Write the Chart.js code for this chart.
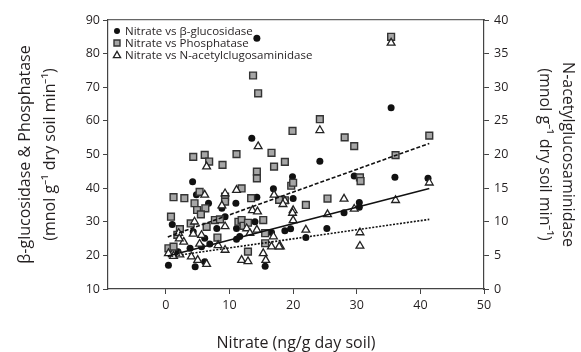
<!DOCTYPE html>
<html>
<head>
<meta charset="utf-8">
<script src="https://cdn.jsdelivr.net/npm/chart.js@4.4.1/dist/chart.umd.min.js"></script>
<style>
  body { margin: 0; background: #fff; }
</style>
</head>
<body>
<canvas id="scatter" width="581" height="352"></canvas>
<script>
var xTicks = [0, 10, 20, 30, 40, 50];
var leftTicks = [10, 20, 30, 40, 50, 60, 70, 80, 90];
var rightTicks = [0, 5, 10, 15, 20, 25, 30, 35, 40];

// nitrate vs beta-glucosidase (left axis)
var gluX = [14.3, 35.4, 24.2, 19.9, 29.6, 36.0, 41.2, 20.0, 30.4, 30.4, 28.0, 18.7, 19.6, 25.3, 22.0,
  13.5, 4.2, 16.9, 14.3, 6.7, 4.8, 11.0, 8.8, 1.0, 9.3, 8.0, 14.0, 11.1, 4.3, 6.1, 11.1, 11.6, 16.6,
  1.9, 3.8, 5.6, 6.9, 0.4, 4.6, 6.1, 15.6];
var gluY = [84.6, 63.9, 48.0, 43.4, 43.6, 43.2, 42.9, 36.9, 35.7, 34.3, 32.7, 27.3, 27.9, 28.0, 25.3,
  54.8, 41.9, 39.8, 37.3, 35.5, 38.0, 35.5, 34.0, 29.2, 31.5, 28.0, 30.0, 28.0, 27.0, 25.1, 24.8, 25.6, 26.8,
  21.1, 22.1, 22.6, 23.4, 17.1, 16.6, 18.1, 16.8];

// nitrate vs phosphatase (left axis)
var phosX = [35.4, 24.2, 19.9, 28.1, 29.6, 41.4, 18.7, 36.1, 19.7, 20.0, 30.5, 30.6, 25.4, 22.0, 18.7,
  13.7, 14.5, 4.3, 6.1, 6.8, 8.9, 11.1, 16.6, 17.0, 14.3, 14.3, 1.2, 2.9, 5.3, 11.9, 13.4, 9.3, 9.3,
  4.5, 4.9, 6.2, 5.5, 0.8, 3.9, 7.7, 8.5, 11.4, 11.9, 12.2, 12.9, 15.3, 17.8, 2.2, 6.4, 8.1, 15.6, 15.6,
  0.4, 1.2, 12.9, 1.8];
var phosY = [85.0, 60.5, 57.0, 55.1, 52.5, 55.6, 47.8, 49.8, 40.7, 41.6, 43.2, 42.1, 36.9, 35.0, 36.4,
  73.5, 68.2, 49.3, 49.9, 47.9, 46.9, 50.1, 50.5, 46.4, 44.9, 42.9, 37.3, 37.0, 38.9, 39.9, 37.0, 37.5, 36.0,
  35.5, 33.5, 34.0, 32.2, 31.5, 29.5, 30.5, 30.7, 30.0, 30.5, 28.8, 29.7, 30.5, 36.5, 27.8, 28.5, 25.3, 26.6, 23.6,
  22.1, 22.6, 21.1, 26.1];

// nitrate vs N-acetylglucosaminidase (right axis)
var nagX = [35.4, 24.2, 28.0, 20.0, 19.9, 20.0, 25.4, 29.6, 36.1, 41.4, 22.0, 30.5, 30.5, 18.7, 18.0,
  14.5, 6.4, 6.1, 9.3, 11.1, 13.6, 14.4, 8.8, 17.0, 18.4, 4.5, 2.0, 5.6, 4.3, 9.3, 12.7, 13.2, 14.3, 16.9,
  0.4, 1.2, 2.2, 4.0, 5.0, 6.4, 8.2, 9.3, 11.9, 12.9, 15.3, 15.7, 16.6, 17.8, 2.8, 5.3, 2.1];
var nagY = [36.6, 23.6, 13.4, 11.7, 11.3, 10.2, 11.1, 11.9, 13.2, 15.8, 8.8, 8.4, 6.4, 13.1, 6.3,
  21.2, 18.2, 14.0, 14.2, 14.7, 11.7, 11.5, 12.4, 14.0, 12.6, 10.0, 8.3, 8.0, 8.2, 9.3, 9.0, 8.3, 8.8, 7.8,
  5.3, 4.9, 5.1, 4.8, 4.3, 3.7, 6.5, 5.8, 4.3, 4.1, 5.3, 4.3, 6.3, 6.3, 7.0, 6.7, 7.5];

// fitted lines, end points
var trendX = [0.3, 41.4];
var trendPhos = [25.5, 53.3];
var trendGlu = [19.8, 39.9];
var trendNag = [4.8, 10.35];

var legendLabels = ['Nitrate vs \u03b2-glucosidase', 'Nitrate vs Phosphatase', 'Nitrate vs N-acetylclugosaminidase'];

var ink = '#231f20';
var axisColor = '#444';

function toPoints(xs, ys) {
  return xs.map(function(x, i) { return {x: x, y: ys[i]}; });
}

Chart.defaults.font.family = "'Open Sans', sans-serif";
Chart.defaults.color = ink;

// legend drawn inside the plot, top left
var insideLegend = {
  id: 'insideLegend',
  afterDraw: function(chart) {
    var ctx = chart.ctx;
    var x0 = chart.chartArea.left + 9;
    var y0 = chart.chartArea.top + 11;
    ctx.save();
    ctx.font = "11.5px 'Open Sans', sans-serif";
    ctx.fillStyle = ink;
    ctx.textBaseline = 'middle';
    legendLabels.forEach(function(label, i) {
      var y = y0 + i * 12;
      ctx.beginPath();
      if (i == 0) {
        ctx.fillStyle = '#111';
        ctx.arc(x0, y, 3, 0, Math.PI * 2);
        ctx.fill();
      } else if (i == 1) {
        ctx.fillStyle = '#a6a6a6';
        ctx.strokeStyle = '#333';
        ctx.lineWidth = 1.4;
        ctx.rect(x0 - 3, y - 3, 6, 6);
        ctx.fill();
        ctx.stroke();
      } else {
        ctx.fillStyle = '#fff';
        ctx.strokeStyle = '#222';
        ctx.lineWidth = 1.3;
        ctx.moveTo(x0, y - 3.6);
        ctx.lineTo(x0 + 3.6, y + 2.6);
        ctx.lineTo(x0 - 3.6, y + 2.6);
        ctx.closePath();
        ctx.fill();
        ctx.stroke();
      }
      ctx.fillStyle = ink;
      ctx.fillText(label, x0 + 8, y + 0.5);
    });
    ctx.restore();
  }
};

var ctx = document.getElementById('scatter').getContext('2d');
var myChart = new Chart(ctx, {
  type: 'scatter',
  data: {
    datasets: [
      {
        label: 'Phosphatase fit',
        data: toPoints(trendX, trendPhos),
        showLine: true,
        pointRadius: 0,
        borderColor: '#111',
        borderWidth: 1.6,
        borderDash: [4, 2],
        yAxisID: 'y'
      },
      {
        label: 'Glucosidase fit',
        data: toPoints(trendX, trendGlu),
        showLine: true,
        pointRadius: 0,
        borderColor: '#111',
        borderWidth: 1.6,
        yAxisID: 'y'
      },
      {
        label: 'NAG fit',
        data: toPoints(trendX, trendNag),
        showLine: true,
        pointRadius: 0,
        borderColor: '#111',
        borderWidth: 1.6,
        borderDash: [2, 1.5],
        yAxisID: 'y2'
      },
      {
        label: legendLabels[2],
        data: toPoints(nagX, nagY),
        pointStyle: 'triangle',
        pointRadius: 4.5,
        backgroundColor: '#fff',
        borderColor: '#222',
        borderWidth: 1.3,
        yAxisID: 'y2'
      },
      {
        label: legendLabels[1],
        data: toPoints(phosX, phosY),
        pointStyle: 'rect',
        pointRadius: 4.8,
        backgroundColor: '#a6a6a6',
        borderColor: '#333',
        borderWidth: 1.4,
        yAxisID: 'y'
      },
      {
        label: legendLabels[0],
        data: toPoints(gluX, gluY),
        pointStyle: 'circle',
        pointRadius: 3.5,
        backgroundColor: '#111',
        borderColor: '#111',
        borderWidth: 0,
        yAxisID: 'y'
      }
    ]
  },
  options: {
    responsive: false,
    animation: false,
    events: [],
    layout: { padding: 0 },
    plugins: {
      legend: { display: false },
      tooltip: { enabled: false }
    },
    scales: {
      x: {
        type: 'linear',
        position: 'bottom',
        min: -9.1,
        max: 50,
        afterFit: function(s) { s.height = 63; },
        afterBuildTicks: function(s) { s.ticks = xTicks.map(function(v) { return {value: v}; }); },
        grid: { drawOnChartArea: false, color: axisColor, tickLength: 5 },
        border: { color: axisColor, width: 1.2 },
        ticks: { font: { size: 12.5 }, color: ink, padding: 4 },
        title: {
          display: true,
          text: 'Nitrate (ng/g day soil)',
          font: { size: 16, lineHeight: 1.1 },
          color: ink,
          padding: { top: 0, bottom: 0 }
        }
      },
      xTop: {
        type: 'linear',
        position: 'top',
        min: -9.1,
        max: 50,
        afterFit: function(s) { s.height = 20; },
        grid: { display: false },
        border: { color: '#666', width: 1.2 },
        ticks: { display: false }
      },
      y: {
        position: 'left',
        min: 10,
        max: 90,
        afterFit: function(s) { s.width = 108; },
        afterBuildTicks: function(s) { s.ticks = leftTicks.map(function(v) { return {value: v}; }); },
        grid: { drawOnChartArea: false, color: axisColor, tickLength: 5 },
        border: { color: axisColor, width: 1.2 },
        ticks: { font: { size: 12.5 }, color: ink, padding: 3 },
        title: {
          display: true,
          text: ['\u03b2-glucosidase & Phosphatase', '(mnol g\u207b\u00b9 dry soil min\u207b\u00b9)'],
          font: { size: 16, lineHeight: 1.55 },
          color: ink,
          padding: { top: 13, bottom: 0 }
        }
      },
      y2: {
        position: 'right',
        min: 0,
        max: 40,
        afterFit: function(s) { s.width = 97; },
        afterBuildTicks: function(s) { s.ticks = rightTicks.map(function(v) { return {value: v}; }); },
        grid: { drawOnChartArea: false, color: axisColor, tickLength: 5 },
        border: { color: axisColor, width: 1.2 },
        ticks: { font: { size: 12.5 }, color: ink, padding: 5 },
        title: {
          display: true,
          text: ['N-acetylglucosaminidase', '(mnol g\u207b\u00b9 dry soil min\u207b\u00b9)'],
          font: { size: 16, lineHeight: 1.45 },
          color: ink,
          padding: { top: 2, bottom: 0 }
        }
      }
    }
  },
  plugins: [insideLegend]
});
</script>
</body>
</html>
